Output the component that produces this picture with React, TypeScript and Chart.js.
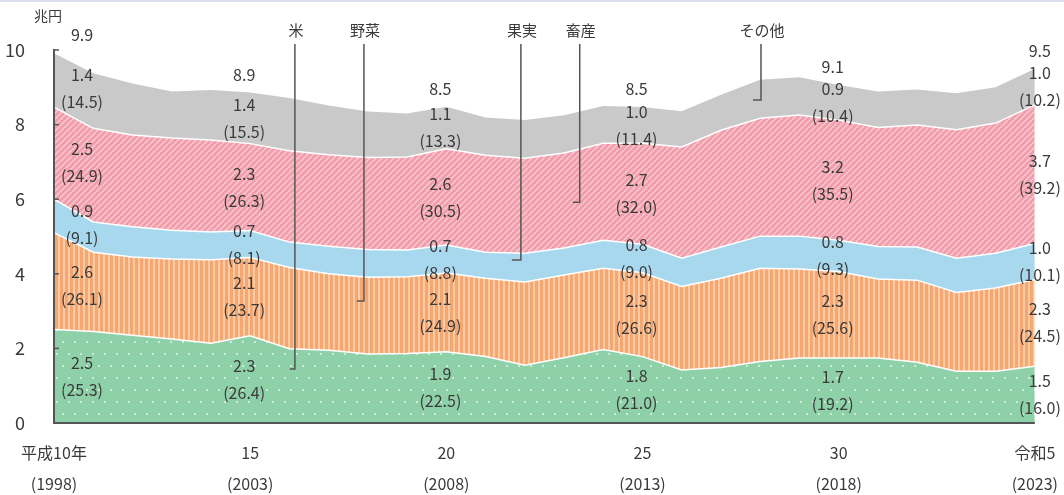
import React, { useEffect, useRef } from 'react';
import { Chart, registerables } from 'chart.js';

Chart.register(...registerables);

// ---- data (兆円) ----
const years = [
  1998, 1999, 2000, 2001, 2002, 2003, 2004, 2005, 2006, 2007, 2008, 2009, 2010,
  2011, 2012, 2013, 2014, 2015, 2016, 2017, 2018, 2019, 2020, 2021, 2022, 2023,
];
const rice = [
  2.51, 2.45, 2.35, 2.25, 2.14, 2.34, 1.99, 1.95, 1.85, 1.86, 1.91, 1.78, 1.55,
  1.75, 1.97, 1.78, 1.42, 1.49, 1.65, 1.74, 1.74, 1.74, 1.63, 1.39, 1.39, 1.52,
];
const vegetables = [
  2.59, 2.13, 2.1, 2.15, 2.24, 2.1, 2.18, 2.05, 2.06, 2.06, 2.11, 2.1, 2.23,
  2.22, 2.18, 2.25, 2.24, 2.39, 2.5, 2.39, 2.32, 2.12, 2.2, 2.11, 2.23, 2.33,
];
const fruit = [
  0.9, 0.81, 0.81, 0.77, 0.74, 0.72, 0.68, 0.74, 0.74, 0.72, 0.75, 0.7, 0.77,
  0.72, 0.75, 0.76, 0.76, 0.84, 0.86, 0.88, 0.84, 0.87, 0.89, 0.92, 0.93, 0.96,
];
const livestock = [
  2.47, 2.51, 2.46, 2.47, 2.47, 2.33, 2.45, 2.45, 2.47, 2.49, 2.58, 2.6, 2.55,
  2.55, 2.6, 2.71, 2.98, 3.13, 3.16, 3.25, 3.22, 3.19, 3.27, 3.44, 3.49, 3.72,
];
const other = [
  1.44, 1.48, 1.38, 1.25, 1.34, 1.37, 1.41, 1.32, 1.23, 1.17, 1.13, 1.01, 1.02,
  1.01, 1.0, 0.97, 0.96, 0.95, 1.03, 1.01, 0.94, 0.97, 0.95, 0.98, 0.96, 0.97,
];

// ---- axis tick labels ----
const tickYears = [1998, 2003, 2008, 2013, 2018, 2023];
const tickEra = ['平成10年', '15', '20', '25', '30', '令和5'];
const tickWestern = ['(1998)', '(2003)', '(2008)', '(2013)', '(2018)', '(2023)'];

// ---- value labels (at tickYears) ----
const totalLabels = ['9.9', '8.9', '8.5', '8.5', '9.1', '9.5'];
const riceVal = ['2.5', '2.3', '1.9', '1.8', '1.7', '1.5'];
const ricePct = ['25.3', '26.4', '22.5', '21.0', '19.2', '16.0'];
const vegVal = ['2.6', '2.1', '2.1', '2.3', '2.3', '2.3'];
const vegPct = ['26.1', '23.7', '24.9', '26.6', '25.6', '24.5'];
const fruitVal = ['0.9', '0.7', '0.7', '0.8', '0.8', '1.0'];
const fruitPct = ['9.1', '8.1', '8.8', '9.0', '9.3', '10.1'];
const liveVal = ['2.5', '2.3', '2.6', '2.7', '3.2', '3.7'];
const livePct = ['24.9', '26.3', '30.5', '32.0', '35.5', '39.2'];
const otherVal = ['1.4', '1.4', '1.1', '1.0', '0.9', '1.0'];
const otherPct = ['14.5', '15.5', '13.3', '11.4', '10.4', '10.2'];

const seriesNames = ['米', '野菜', '果実', '畜産', 'その他'];

// leader lines: anchor in data units (year, value)
const leaders = [
  { name: '米', x: 2004.14, end: 1.45, tick: 5 },
  { name: '野菜', x: 2005.9, end: 3.27, tick: 7 },
  { name: '果実', x: 2009.9, end: 4.37, tick: 9 },
  { name: '畜産', x: 2011.4, end: 5.92, tick: 7 },
  { name: 'その他', x: 2016.02, end: 8.66, tick: 8 },
];

const FAMILY = '"Noto Sans CJK JP", "Noto Sans", sans-serif';
const TEXT = '#3a3a3a';

function valAt(arr: number[], yr: number) {
  const i = Math.max(0, Math.min(arr.length - 2, Math.floor(yr - years[0])));
  const t = yr - years[i];
  return arr[i] + (arr[i + 1] - arr[i]) * t;
}

export default function App() {
  const ref = useRef<HTMLCanvasElement>(null);

  useEffect(() => {
    const canvas = ref.current!;
    const ctx = canvas.getContext('2d')!;
    const mk = (w: number, h: number, draw: (g: CanvasRenderingContext2D) => void) => {
      const c = document.createElement('canvas');
      c.width = w;
      c.height = h;
      draw(c.getContext('2d')!);
      return ctx.createPattern(c, 'repeat')!;
    };
    const greenPat = mk(12, 24, (g) => {
      g.fillStyle = '#8ed0a8';
      g.fillRect(0, 0, 12, 24);
      g.fillStyle = 'rgba(255,255,255,0.7)';
      for (const [x, y] of [[3, 6], [9, 18]]) {
        g.beginPath();
        g.arc(x, y, 1.1, 0, Math.PI * 2);
        g.fill();
      }
    });
    const orangePat = mk(5, 1, (g) => {
      g.fillStyle = '#f6a771';
      g.fillRect(0, 0, 5, 1);
      g.fillStyle = '#fbcca3';
      g.fillRect(3, 0, 2, 1);
    });
    const pinkPat = mk(6, 6, (g) => {
      g.fillStyle = '#f29dab';
      g.fillRect(0, 0, 6, 6);
      g.strokeStyle = '#f9cad0';
      g.lineWidth = 1.5;
      for (const o of [-6, 0, 6]) {
        g.beginPath();
        g.moveTo(o, 6);
        g.lineTo(o + 6, 0);
        g.stroke();
      }
    });

    const series = [rice, vegetables, fruit, livestock, other];
    const fills = [greenPat, orangePat, '#a7d8ed', pinkPat, '#c9c9c9'];
    const valLabels = [riceVal, vegVal, fruitVal, liveVal, otherVal];
    const pctLabels = [ricePct, vegPct, fruitPct, livePct, otherPct];

    const cum: number[][] = [];
    series.forEach((s, k) => {
      cum.push(s.map((v, i) => v + (k > 0 ? cum[k - 1][i] : 0)));
    });

    const overlay = {
      id: 'overlay',
      afterDraw(chart: any) {
        const c = chart.ctx as CanvasRenderingContext2D;
        const xs = chart.scales.x;
        const ys = chart.scales.y;
        const area = chart.chartArea;
        c.save();
        // top frame line
        c.fillStyle = '#dcdff0';
        c.fillRect(0, 0, chart.width, 2);

        // unit
        c.fillStyle = TEXT;
        c.font = `14px ${FAMILY}`;
        c.textAlign = 'center';
        c.textBaseline = 'middle';
        c.fillText('兆円', 48, 16);

        // axes
        c.strokeStyle = '#555';
        c.lineWidth = 2;
        c.beginPath();
        c.moveTo(area.left, ys.getPixelForValue(10) - 1);
        c.lineTo(area.left, area.bottom);
        c.lineTo(area.right, area.bottom);
        c.stroke();
        c.lineWidth = 1.5;
        for (let v = 2; v <= 10; v += 2) {
          const y = ys.getPixelForValue(v);
          c.beginPath();
          c.moveTo(area.left, y);
          c.lineTo(area.left + 5, y);
          c.stroke();
        }

        // leaders
        c.strokeStyle = '#555';
        c.lineWidth = 1.5;
        c.font = `15px ${FAMILY}`;
        leaders.forEach((l) => {
          const x = xs.getPixelForValue(l.x);
          const yEnd = ys.getPixelForValue(l.end);
          c.beginPath();
          c.moveTo(x, area.top - 6);
          c.lineTo(x, yEnd);
          c.lineTo(x - l.tick, yEnd);
          c.stroke();
          c.fillStyle = TEXT;
          c.fillText(l.name, x + 1, area.top - 20);
        });

        // value labels
        c.font = `16px ${FAMILY}`;
        c.fillStyle = TEXT;
        const n = tickYears.length;
        tickYears.forEach((yr, j) => {
          const dx = j === 0 ? 28 : j === n - 1 ? 5 : -6;
          const evalYr = j === 0 ? yr + 0.4 : yr;
          const x = xs.getPixelForValue(yr) + dx;
          for (let k = 0; k < series.length; k++) {
            const lo = k === 0 ? 0 : valAt(cum[k - 1], evalYr);
            const hi = valAt(cum[k], evalYr);
            const mid = ys.getPixelForValue((lo + hi) / 2);
            c.fillText(valLabels[k][j], x, mid - 13.5);
            c.fillText(`(${pctLabels[k][j]})`, x, mid + 13.5);
          }
          const top = ys.getPixelForValue(cum[series.length - 1][years.indexOf(yr)]);
          c.fillText(totalLabels[j], x, top - 18);
        });
        c.restore();
      },
    };

    const chart = new Chart(canvas, {
      type: 'line',
      data: {
        datasets: series.map((s, k) => ({
          label: seriesNames[k],
          data: years.map((y, i) => ({ x: y, y: s[i] })),
          backgroundColor: fills[k] as any,
          borderColor: '#ffffff',
          borderWidth: k === series.length - 1 ? 0 : 1.5,
          fill: k === 0 ? 'origin' : '-1',
          pointRadius: 0,
          tension: 0,
        })),
      },
      options: {
        responsive: false,
        animation: false,
        layout: { padding: { top: 50, right: 29, left: 0, bottom: 0 } },
        plugins: { legend: { display: false }, tooltip: { enabled: false }, title: { display: false } },
        scales: {
          x: {
            type: 'linear',
            min: 1998,
            max: 2023,
            grid: { display: false },
            border: { display: false },
            afterBuildTicks: (s: any) => {
              s.ticks = tickYears.map((v) => ({ value: v }));
            },
            afterFit: (s: any) => {
              s.height = 72;
            },
            ticks: {
              autoSkip: false,
              maxRotation: 0,
              padding: 6,
              color: TEXT,
              font: { size: 16, family: FAMILY, lineHeight: 1.95 },
              callback: (v: any) => {
                const i = tickYears.indexOf(Number(v));
                return i >= 0 ? [tickEra[i], tickWestern[i]] : '';
              },
            },
          },
          y: {
            stacked: true,
            min: 0,
            max: 10,
            grid: { display: false },
            border: { display: false },
            afterFit: (s: any) => {
              s.width = 54;
            },
            ticks: {
              stepSize: 2,
              padding: 21,
              color: TEXT,
              font: { size: 18, family: FAMILY },
            },
          },
        },
      },
      plugins: [overlay],
    });
    return () => chart.destroy();
  }, []);

  return (
    <div style={{ position: 'fixed', left: 0, top: 0, width: 1064, height: 495, background: '#fff' }}>
      <canvas ref={ref} width={1064} height={495} style={{ display: 'block' }} />
    </div>
  );
}
